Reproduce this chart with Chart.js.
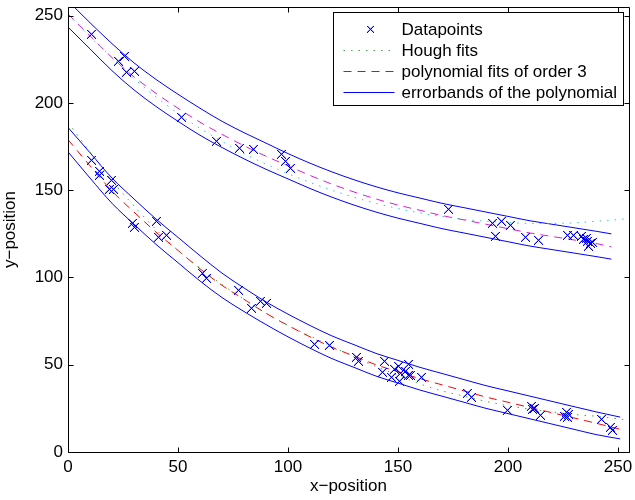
<!DOCTYPE html>
<html>
<head>
<meta charset="utf-8">
<script src="https://cdn.jsdelivr.net/npm/chart.js@4.4.1/dist/chart.umd.min.js"></script>
<style>
    html, body { margin: 0; padding: 0; background: #fff; }
    #contenedor { width: 635px; height: 500px; }
</style>
</head>
<body>
<div id="contenedor"><canvas id="graficaCarriles" width="635" height="500"></canvas></div>
<script>
// Marcas de los ejes (iguales en x e y)
const tickValues = [0, 50, 100, 150, 200, 250];

// Puntos detectados, carril superior
const upperPtsX = [10.9, 22.8, 25.8, 26.6, 30.3, 51.5, 67.3, 77.9, 84.4, 97.2, 99.0, 101.3, 173.0, 192.9, 194.3, 197.0, 201.0, 207.9, 213.8, 226.9, 229.6, 233.2, 234.1, 235.5, 236.0, 237.7, 236.7, 238.5];
const upperPtsY = [239.0, 223.8, 226.7, 217.7, 218.3, 191.8, 177.8, 174.0, 173.1, 170.6, 166.6, 162.2, 138.8, 130.7, 123.3, 131.9, 129.6, 122.7, 121.0, 123.9, 123.9, 123.3, 121.6, 122.5, 120.5, 119.4, 117.8, 120.3];

// Puntos detectados, carril inferior
const lowerPtsX = [10.7, 14.5, 14.5, 19.8, 19.0, 20.5, 29.4, 30.3, 40.3, 41.2, 44.8, 61.3, 62.8, 77.4, 83.2, 87.7, 90.0, 111.9, 118.7, 131.0, 131.9, 144.0, 142.8, 148.6, 150.0, 151.1, 153.4, 154.9, 154.6, 155.6, 147.0, 150.7, 160.6, 181.6, 183.4, 199.7, 210.6, 212.0, 214.7, 226.4, 225.9, 226.9, 242.3, 246.8, 247.3, 211.2, 227.3];
const lowerPtsY = [167.3, 160.6, 158.2, 155.3, 150.6, 150.6, 131.2, 128.4, 131.8, 123.2, 123.8, 102.4, 99.5, 92.8, 82.3, 86.1, 85.2, 61.7, 60.9, 54.3, 51.7, 51.7, 45.7, 47.4, 48.9, 45.1, 46.0, 49.9, 44.1, 43.6, 42.8, 40.3, 42.6, 33.3, 31.0, 23.5, 25.8, 25.2, 21.2, 22.9, 20.1, 19.5, 18.9, 14.3, 12.6, 24.4, 21.6];

// Ajustes de Hough (ambos carriles)
const houghX = [0, 10, 20, 30, 40, 50, 60, 70, 80, 90, 100, 110, 120, 130, 140, 150, 160, 170, 180, 190, 200, 210, 220, 230, 240, 250, 255];
const houghUpper = [251, 238, 226, 214, 203.5, 194, 185.5, 178, 171, 165, 159.5, 154.5, 150, 146, 142.5, 139.5, 137, 135, 133.3, 132.2, 131.5, 131, 131, 131.3, 132.2, 133.2, 133.8];
const houghLower = [189, 172, 155.5, 141, 127.5, 115.5, 105.5, 96, 87.5, 79.5, 72.5, 66.5, 60.5, 54.5, 49, 44, 39, 35, 32, 29, 26.5, 24.5, 23, 21.5, 20.5, 19, 18.3];

// Polinomio de orden 3 y bandas de error, carril superior
const upperFitX = [0, 10, 20, 30, 40, 50, 60, 70, 80, 90, 100, 110, 120, 130, 140, 150, 160, 170, 180, 190, 200, 210, 220, 230, 240, 247];
const upperPoly = [251, 238.5, 226, 215, 205.5, 197, 189, 182, 175.5, 169.5, 164, 158.5, 153.5, 149, 145, 141.5, 138.5, 135.5, 133, 130.5, 128, 125.5, 123.5, 121.5, 119.5, 117.5];
const upperBandHi = [258.5, 246, 234, 223, 213.5, 205, 197, 189.5, 183, 177, 171, 165.5, 160.5, 156, 152, 148.5, 145.5, 142.5, 140, 137.5, 135, 132.5, 130.5, 128.5, 126.5, 125];
const upperBandLo = [243.5, 231, 218.5, 207.5, 198, 189.5, 181.5, 174.5, 168, 162, 156.5, 151, 146, 141.5, 137.5, 134, 131, 128, 125.5, 123, 120.5, 118, 116, 114, 112, 110.5];

// Polinomio de orden 3 y bandas de error, carril inferior
const lowerFitX = [0, 10, 20, 30, 40, 50, 60, 70, 80, 90, 100, 110, 120, 130, 140, 150, 160, 170, 180, 190, 200, 210, 220, 230, 240, 251];
const lowerPoly = [179, 164, 149.5, 137.5, 126, 115.5, 105, 95.5, 87.5, 79.5, 72.5, 66, 60, 55, 50, 46, 42, 38.5, 35, 31.5, 28.5, 25.5, 22.5, 19.5, 16.5, 13];
const lowerBandHi = [186, 171.5, 157, 145, 133.5, 123, 112.5, 102.5, 94, 86, 79, 72.5, 66.5, 61.5, 56.5, 52.5, 48.5, 45, 41.5, 38, 35, 32, 29, 26, 23, 20];
const lowerBandLo = [172, 157, 142.5, 130.5, 119, 108.5, 98, 88.5, 80.5, 73, 66, 59.5, 53.5, 48.5, 43.5, 39.5, 35.5, 32, 28.5, 25, 22, 19, 16, 13, 10, 7.5];

const FUENTE = { family: '"Liberation Sans", Arial, sans-serif', size: 17 };
const AZUL = 'rgb(0, 0, 255)';

function pares(xs, ys) {
    return xs.map((x, i) => ({ x: x, y: ys[i] }));
}

// Aspa pixelada (marcador 'x') con un borde suave a los lados
function crearAspa(lado) {
    const c = document.createElement('canvas');
    c.width = lado;
    c.height = lado;
    const g = c.getContext('2d');
    g.fillStyle = 'rgba(0, 0, 255, 0.35)';
    for (let i = 0; i < lado - 1; i++) {
        g.fillRect(i + 1, i, 1, 1);
        g.fillRect(lado - 2 - i, i, 1, 1);
    }
    g.fillStyle = AZUL;
    for (let i = 0; i < lado; i++) {
        g.fillRect(i, i, 1, 1);
        g.fillRect(lado - 1 - i, i, 1, 1);
    }
    return c;
}
const aspa = crearAspa(9);
const aspaChica = crearAspa(7);

function curva(label, xs, ys, color, dash, enLeyenda) {
    return {
        label: label,
        data: pares(xs, ys),
        showLine: true,
        borderColor: color,
        borderWidth: 1,
        borderDash: dash,
        pointRadius: 0,
        fill: false,
        cubicInterpolationMode: 'monotone',
        colorLeyenda: color,
        enLeyenda: enLeyenda
    };
}

// Aspas sin suavizado de imagen
const nitidoPlugin = {
    id: 'nitido',
    beforeDatasetsDraw(chart) { chart.ctx.imageSmoothingEnabled = false; },
    afterDatasetsDraw(chart) { chart.ctx.imageSmoothingEnabled = true; }
};

// Caja tipo MATLAB con marcas hacia dentro en los cuatro lados
const marcoPlugin = {
    id: 'marco',
    afterDatasetsDraw(chart) {
        const { ctx, chartArea: a, scales: { x, y } } = chart;
        ctx.save();
        ctx.strokeStyle = '#000';
        ctx.lineWidth = 1;
        ctx.beginPath();
        const l = Math.round(a.left) + 0.5, r = Math.round(a.right) + 0.5;
        const t = Math.round(a.top) + 0.5, b = Math.round(a.bottom) + 0.5;
        ctx.rect(l, t, r - l, b - t);
        tickValues.forEach(v => {
            const px = Math.round(x.getPixelForValue(v)) + 0.5;
            ctx.moveTo(px, b); ctx.lineTo(px, b - 5);
            ctx.moveTo(px, t); ctx.lineTo(px, t + 5);
            const py = Math.round(y.getPixelForValue(v)) + 0.5;
            ctx.moveTo(l, py); ctx.lineTo(l + 5, py);
            ctx.moveTo(r, py); ctx.lineTo(r - 5, py);
        });
        ctx.stroke();
        ctx.restore();
    }
};

// Leyenda en la esquina superior derecha, una entrada por tipo de serie
const leyendaPlugin = {
    id: 'leyenda',
    afterDraw(chart) {
        const ctx = chart.ctx;
        const a = chart.chartArea;
        const entradas = chart.data.datasets.filter(d => d.enLeyenda);
        ctx.save();
        ctx.font = FUENTE.size + 'px ' + FUENTE.family;
        const anchoTexto = Math.max(...entradas.map(e => ctx.measureText(e.label).width));
        const ancho = Math.round(68 + anchoTexto + 7);
        const fila = 21.3;
        const alto = 93;
        const x0 = Math.round(a.right - 6 - ancho) + 0.5;
        const y0 = Math.round(a.top + 5) + 0.5;
        ctx.fillStyle = '#fff';
        ctx.fillRect(x0, y0, ancho, alto);
        ctx.strokeStyle = '#000';
        ctx.lineWidth = 1;
        ctx.strokeRect(x0, y0, ancho, alto);

        entradas.forEach((e, i) => {
            const yc = Math.round(y0 + 16 + fila * i) + 0.5;
            if (e.showLine) {
                ctx.strokeStyle = e.colorLeyenda;
                ctx.lineWidth = 1;
                ctx.setLineDash(e.borderDash || []);
                ctx.beginPath();
                ctx.moveTo(x0 + 10, yc);
                ctx.lineTo(x0 + 61, yc);
                ctx.stroke();
                ctx.setLineDash([]);
            } else {
                ctx.drawImage(aspaChica, Math.round(x0 + 33), Math.round(yc - 3.5));
            }
            ctx.fillStyle = '#000';
            ctx.textBaseline = 'middle';
            ctx.textAlign = 'left';
            ctx.fillText(e.label, x0 + 68, yc + 1);
        });
        ctx.restore();
    }
};

const puntos = {
    label: 'Datapoints',
    data: pares(upperPtsX, upperPtsY).concat(pares(lowerPtsX, lowerPtsY)),
    showLine: false,
    pointStyle: aspa,
    pointRadius: 5,
    borderColor: AZUL,
    backgroundColor: AZUL,
    enLeyenda: true
};

const datasets = [
    puntos,
    curva('Hough fits', houghX, houghLower, 'rgb(70, 165, 70)', [1.5, 6], true),
    curva('Hough fits (upper)', houghX, houghUpper, 'rgb(40, 200, 205)', [1.5, 6], false),
    curva('polynomial fits of order 3', lowerFitX, lowerPoly, 'rgb(255, 0, 0)', [8, 6], true),
    curva('polynomial fit (upper)', upperFitX, upperPoly, 'rgb(215, 30, 215)', [8, 6], false),
    curva('errorbands of the polynomial', lowerFitX, lowerBandHi, AZUL, [], true),
    curva('errorband lower lo', lowerFitX, lowerBandLo, AZUL, [], false),
    curva('errorband upper hi', upperFitX, upperBandHi, AZUL, [], false),
    curva('errorband upper lo', upperFitX, upperBandLo, AZUL, [], false)
];

function eje(titulo, fijarTam) {
    return {
        type: 'linear',
        min: 0,
        max: 255,
        afterBuildTicks: s => { s.ticks = tickValues.map(v => ({ value: v })); },
        grid: { display: false, drawTicks: false },
        border: { display: false },
        ticks: { color: '#000', font: FUENTE, padding: 5, maxRotation: 0 },
        title: { display: true, text: titulo, color: '#000', font: FUENTE, padding: { top: 0, bottom: 3 } },
        afterFit: fijarTam
    };
}

new Chart(document.getElementById('graficaCarriles').getContext('2d'), {
    type: 'scatter',
    data: { datasets: datasets },
    options: {
        responsive: false,
        animation: false,
        layout: { padding: { top: 7, right: 4, left: 0, bottom: 0 } },
        plugins: { legend: { display: false }, tooltip: { enabled: false } },
        scales: {
            x: eje('x−position', s => {
                s.height = 48;
                s.paddingLeft = 0;
                s.paddingRight = 0;
            }),
            y: eje('y−position', s => {
                s.width = 68;
                s.paddingTop = 0;
                s.paddingBottom = 0;
            })
        }
    },
    plugins: [nitidoPlugin, marcoPlugin, leyendaPlugin]
});
</script>
</body>
</html>
